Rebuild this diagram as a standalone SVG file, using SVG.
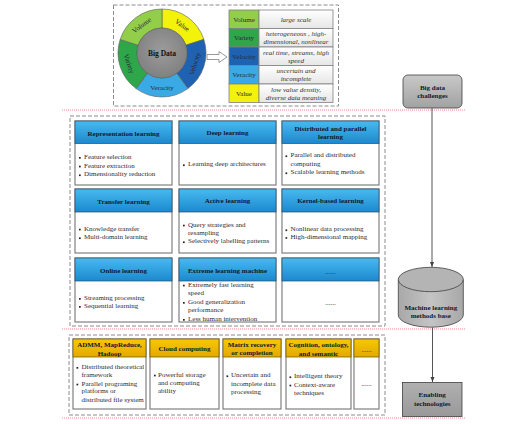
<svg xmlns="http://www.w3.org/2000/svg" width="512" height="424" viewBox="0 0 512 424">
<defs>
<linearGradient id="gBlue" x1="0" y1="0" x2="0" y2="1"><stop offset="0" stop-color="#48BAF0"/><stop offset="1" stop-color="#1C88CE"/></linearGradient>
<linearGradient id="gGold" x1="0" y1="0" x2="0" y2="1"><stop offset="0" stop-color="#F8C800"/><stop offset="1" stop-color="#E2A900"/></linearGradient>
<linearGradient id="gGray" x1="0" y1="0" x2="0" y2="1"><stop offset="0" stop-color="#C8C8C8"/><stop offset="1" stop-color="#A2A2A2"/></linearGradient>
<linearGradient id="gDark" x1="0" y1="0" x2="0" y2="1"><stop offset="0" stop-color="#B0B0B0"/><stop offset="1" stop-color="#999999"/></linearGradient>
<linearGradient id="gCell" x1="0" y1="0" x2="0" y2="1"><stop offset="0" stop-color="#FFFFFF"/><stop offset="1" stop-color="#E6E6E6"/></linearGradient>
<linearGradient id="gCyl" x1="0" y1="0" x2="1" y2="0"><stop offset="0" stop-color="#A8A8A8"/><stop offset="0.5" stop-color="#C4C4C4"/><stop offset="1" stop-color="#A8A8A8"/></linearGradient>
<radialGradient id="gHub" cx="0.5" cy="0.45" r="0.6"><stop offset="0" stop-color="#9C9C9C"/><stop offset="1" stop-color="#7E7E7E"/></radialGradient>
<marker id="arr" viewBox="0 0 10 10" refX="10" refY="5" markerWidth="5" markerHeight="5" orient="auto"><path d="M0,1 L10,5 L0,9 Z" fill="#404040"/></marker>
</defs>
<style>
text{font-family:"Liberation Serif","Times New Roman",serif;font-size:7px;fill:#2a2a36}
.t{font-weight:bold;fill:#0f1a2c;text-anchor:middle}
.c{text-anchor:middle}
.i{font-style:italic;text-anchor:middle;fill:#333}
.body{fill:#fff;stroke:#808080;stroke-width:1.2}
.hb{fill:url(#gBlue);stroke:#2b4a66;stroke-width:0.7}
.hy{fill:url(#gGold);stroke:#6a5200;stroke-width:0.7}
.dash{fill:none;stroke:#8c8c8c;stroke-width:1;stroke-dasharray:4 2}
.red{stroke:#E87070;stroke-width:0.8;stroke-dasharray:1 1}
.b{fill:#222}
.seg{stroke:#5a5a5a;stroke-width:0.6}
.cell{stroke:#808080;stroke-width:0.8}
.conn{stroke:#555;stroke-width:1;fill:none}
</style>

<!-- separators and dashed frames -->
<line class="red" x1="62" y1="110" x2="465" y2="110"/>
<line class="red" x1="62" y1="329" x2="465" y2="329"/>
<line class="red" x1="62" y1="418" x2="465" y2="418"/>
<rect class="dash" x="113.5" y="5" width="225" height="101"/>
<rect class="dash" x="70" y="116" width="315" height="210"/>
<rect class="dash" x="69" y="335" width="316" height="80"/>

<!-- Big data wheel -->
<g id="bigdata-wheel">
<path class="seg" fill="#F2F20A" d="M162,9 A44,44 0 0 1 203.85,39.40 L185.78,45.27 A25,25 0 0 0 162,28 Z"/>
<path class="seg" fill="#1F62B2" d="M203.85,39.40 A44,44 0 0 1 187.86,88.60 L176.70,73.23 A25,25 0 0 0 185.78,45.27 Z"/>
<path class="seg" fill="#3AAAE6" d="M187.86,88.60 A44,44 0 0 1 136.14,88.60 L147.30,73.23 A25,25 0 0 0 176.70,73.23 Z"/>
<path class="seg" fill="#2EA64A" d="M136.14,88.60 A44,44 0 0 1 120.15,39.40 L138.22,45.27 A25,25 0 0 0 147.30,73.23 Z"/>
<path class="seg" fill="#92CE4A" d="M120.15,39.40 A44,44 0 0 1 162,9 L162,28 A25,25 0 0 0 138.22,45.27 Z"/>
<circle cx="162" cy="53" r="25" fill="url(#gHub)" stroke="#5a5a5a" stroke-width="0.6"/>
<text class="t" x="162" y="55.5" style="font-size:7.5px;fill:#111">Big Data</text>
<text class="c" transform="translate(182.3,25.1) rotate(36)" y="2.4">Value</text>
<text class="c" transform="translate(194.8,63.7) rotate(-72)" y="2.4">Velocity</text>
<text class="c" x="162" y="89.9">Veracity</text>
<text class="c" transform="translate(129.2,63.7) rotate(72)" y="2.4">Variety</text>
<text class="c" transform="translate(141.7,25.1) rotate(-36)" y="2.4">Volume</text>
</g>

<g id="hollow-arrow">
<polygon points="207,54.5 219,54.5 219,51.5 227,57 219,62.5 219,59.5 207,59.5" fill="#fff" stroke="#808080" stroke-width="0.8"/>
</g>

<!-- V table -->
<g id="v-table">
<rect class="cell" x="229" y="10" width="30" height="18.5" fill="#92CE4A"/>
<rect class="cell" x="229" y="28.5" width="30" height="18.5" fill="#2EA64A"/>
<rect class="cell" x="229" y="47" width="30" height="18.5" fill="#1F62B2"/>
<rect class="cell" x="229" y="65.5" width="30" height="18.5" fill="#3AAAE6"/>
<rect class="cell" x="229" y="84" width="30" height="18.5" fill="#F2F20A"/>
<rect class="cell" x="259" y="10" width="74" height="18.5" fill="url(#gCell)"/>
<rect class="cell" x="259" y="28.5" width="74" height="18.5" fill="url(#gCell)"/>
<rect class="cell" x="259" y="47" width="74" height="18.5" fill="url(#gCell)"/>
<rect class="cell" x="259" y="65.5" width="74" height="18.5" fill="url(#gCell)"/>
<rect class="cell" x="259" y="84" width="74" height="18.5" fill="url(#gCell)"/>
<text class="c" x="244" y="21.6">Volume</text>
<text class="c" x="244" y="40.1">Variety</text>
<text class="c" x="244" y="58.6">Velocity</text>
<text class="c" x="244" y="77.1">Veracity</text>
<text class="c" x="244" y="95.6">Value</text>
<text class="i" x="296" y="21.6">large scale</text>
<text class="i" x="296" y="36.2">heterogeneous , high-</text>
<text class="i" x="296" y="44.2">dimensional, nonlinear</text>
<text class="i" x="296" y="54.7">real time, streams, high</text>
<text class="i" x="296" y="62.7">speed</text>
<text class="i" x="296" y="73.2">uncertain and</text>
<text class="i" x="296" y="81.2">incomplete</text>
<text class="i" x="296" y="91.7">low value density,</text>
<text class="i" x="296" y="99.7">diverse data meaning</text>
</g>

<!-- right column nodes -->
<g id="big-data-challenges">
<rect x="403" y="75" width="59" height="33" rx="5" fill="url(#gGray)" stroke="#404040" stroke-width="0.8"/>
<text class="t" x="432.5" y="90">Big data</text>
<text class="t" x="432.5" y="98">challenges</text>
</g>
<g id="ml-methods-base">
<path d="M398.3,279.5 L398.3,315 A32.5,12.2 0 0 0 463.3,315 L463.3,279.5" fill="url(#gCyl)" stroke="#404040" stroke-width="0.8"/>
<ellipse cx="430.8" cy="279.5" rx="32.5" ry="12.2" fill="#B4B4B4" stroke="#404040" stroke-width="0.8"/>
<text class="t" x="430.8" y="309.5">Machine learning</text>
<text class="t" x="430.8" y="317.8">methods base</text>
</g>
<g id="enabling-technologies">
<rect x="402.5" y="382.5" width="59.5" height="34" fill="url(#gDark)" stroke="#404040" stroke-width="0.8"/>
<text class="t" x="432.2" y="397.4">Enabling</text>
<text class="t" x="432.2" y="405.7">technologies</text>
</g>
<g id="connectors">
<line class="conn" x1="432" y1="108" x2="432" y2="267" marker-end="url(#arr)"/>
<line class="conn" x1="432.5" y1="327.5" x2="432.5" y2="382" marker-end="url(#arr)"/>
</g>

<!-- ML method cards -->
<g id="representation-learning">
<rect class="body" x="75" y="121" width="97" height="64"/><rect class="hb" x="75" y="121" width="97" height="22.5"/>
<text class="t" x="123.5" y="135.5">Representation learning</text>
<rect class="b" x="79" y="157" width="1.7" height="1.7"/><text x="84" y="159">Feature selection</text>
<rect class="b" x="79" y="165.7" width="1.7" height="1.7"/><text x="84" y="167.7">Feature extraction</text>
<rect class="b" x="79" y="174.4" width="1.7" height="1.7"/><text x="84" y="176.4">Dimensionality reduction</text>
</g>
<g id="deep-learning">
<rect class="body" x="179" y="121" width="97" height="64"/><rect class="hb" x="179" y="121" width="97" height="22.5"/>
<text class="t" x="227.5" y="134.7">Deep learning</text>
<rect class="b" x="183" y="164.4" width="1.7" height="1.7"/><text x="188" y="166.4">Learning deep architectures</text>
</g>
<g id="distributed-parallel-learning">
<rect class="body" x="282" y="121" width="97" height="64"/><rect class="hb" x="282" y="121" width="97" height="22.5"/>
<text class="t" x="330.5" y="130.7">Distributed and parallel</text>
<text class="t" x="330.5" y="139">learning</text>
<rect class="b" x="285.5" y="155.4" width="1.7" height="1.7"/><text x="290.5" y="157.4">Parallel and distributed</text>
<text x="290.5" y="165.7">computing</text>
<rect class="b" x="285.5" y="172.4" width="1.7" height="1.7"/><text x="290.5" y="174.4">Scalable learning methods</text>
</g>
<g id="transfer-learning">
<rect class="body" x="75" y="189" width="97" height="64"/><rect class="hb" x="75" y="189" width="97" height="23"/>
<text class="t" x="123.5" y="204">Transfer learning</text>
<rect class="b" x="79" y="228.7" width="1.7" height="1.7"/><text x="84" y="230.7">Knowledge transfer</text>
<rect class="b" x="79" y="237.4" width="1.7" height="1.7"/><text x="84" y="239.4">Multi-domain learning</text>
</g>
<g id="active-learning">
<rect class="body" x="179" y="189" width="97" height="64"/><rect class="hb" x="179" y="189" width="97" height="23"/>
<text class="t" x="227.5" y="203.4">Active learning</text>
<rect class="b" x="183" y="224.7" width="1.7" height="1.7"/><text x="188" y="226.7">Query strategies and</text>
<text x="188" y="235.1">resampling</text>
<rect class="b" x="183" y="241.4" width="1.7" height="1.7"/><text x="188" y="243.4">Selectively labelling patterns</text>
</g>
<g id="kernel-based-learning">
<rect class="body" x="282" y="189" width="97" height="64"/><rect class="hb" x="282" y="189" width="97" height="23"/>
<text class="t" x="330.5" y="203.4">Kernel-based learning</text>
<rect class="b" x="285.5" y="229.4" width="1.7" height="1.7"/><text x="290.5" y="231.4">Nonlinear data processing</text>
<rect class="b" x="285.5" y="237.1" width="1.7" height="1.7"/><text x="290.5" y="239.1">High-dimensional mapping</text>
</g>
<g id="online-learning">
<rect class="body" x="75" y="258" width="97" height="64"/><rect class="hb" x="75" y="258" width="97" height="23"/>
<text class="t" x="123.5" y="273">Online learning</text>
<rect class="b" x="79" y="298" width="1.7" height="1.7"/><text x="84" y="300">Streaming processing</text>
<rect class="b" x="79" y="306" width="1.7" height="1.7"/><text x="84" y="308">Sequential learning</text>
</g>
<g id="extreme-learning-machine">
<rect class="body" x="179" y="258" width="97" height="64"/><rect class="hb" x="179" y="258" width="97" height="23"/>
<text class="t" x="227.5" y="273">Extreme learning machine</text>
<rect class="b" x="183" y="284.7" width="1.7" height="1.7"/><text x="188" y="286.7">Extremely fast learning</text>
<text x="188" y="295">speed</text>
<rect class="b" x="183" y="302" width="1.7" height="1.7"/><text x="188" y="304">Good generalization</text>
<text x="188" y="312.4">performance</text>
<rect class="b" x="183" y="319" width="1.7" height="1.7"/><text x="188" y="321">Less human intervention</text>
</g>
<g id="more-methods">
<rect class="body" x="282" y="258" width="97" height="64"/><rect class="hb" x="282" y="258" width="97" height="23"/>
<text class="c" x="330.5" y="274">......</text>
<text class="c" x="330.5" y="305">......</text>
</g>

<!-- enabling technology cards -->
<g id="admm-mapreduce-hadoop">
<rect class="body" x="73" y="339" width="73" height="70"/><rect class="hy" x="73" y="339" width="73" height="18"/>
<text class="t" x="109.5" y="347.4">ADMM, MapReduce,</text>
<text class="t" x="109.5" y="355.7">Hadoop</text>
<rect class="b" x="76.5" y="367" width="1.7" height="1.7"/><text x="81.5" y="369">Distributed theoretical</text>
<text x="81.5" y="376.7">framework</text>
<rect class="b" x="76.5" y="383.7" width="1.7" height="1.7"/><text x="81.5" y="385.7">Parallel programing</text>
<text x="81.5" y="393.4">platforms or</text>
<text x="81.5" y="401.7">distributed file system</text>
</g>
<g id="cloud-computing">
<rect class="body" x="150" y="339" width="69" height="70"/><rect class="hy" x="150" y="339" width="69" height="18"/>
<text class="t" x="184.5" y="351.4">Cloud computing</text>
<rect class="b" x="154" y="374.7" width="1.7" height="1.7"/><text x="158" y="376.7">Powerful storage</text>
<text x="158" y="385">and computing</text>
<text x="158" y="393.4">ability</text>
</g>
<g id="matrix-recovery">
<rect class="body" x="223" y="339" width="58" height="70"/><rect class="hy" x="223" y="339" width="58" height="18"/>
<text class="t" x="252" y="347.4">Matrix recovery</text>
<text class="t" x="252" y="355.2">or completion</text>
<rect class="b" x="226.5" y="375.4" width="1.7" height="1.7"/><text x="231" y="377.4">Uncertain and</text>
<text x="231" y="385.7">incomplete data</text>
<text x="231" y="394">processing</text>
</g>
<g id="cognition-ontology-semantic">
<rect class="body" x="286" y="339" width="65" height="70"/><rect class="hy" x="286" y="339" width="65" height="18"/>
<text class="t" x="318.5" y="347.4">Cognition, ontology,</text>
<text class="t" x="318.5" y="355.7">and semantic</text>
<rect class="b" x="289.5" y="376.4" width="1.7" height="1.7"/><text x="294" y="378.4">Intelligent theory</text>
<rect class="b" x="289.5" y="384.7" width="1.7" height="1.7"/><text x="294" y="386.7">Context-aware</text>
<text x="294" y="395">techniques</text>
</g>
<g id="more-technologies">
<rect class="body" x="354" y="339" width="25" height="70"/><rect class="hy" x="354" y="339" width="25" height="18"/>
<text class="c" x="366.5" y="352">......</text>
<text class="c" x="366.5" y="385.7">......</text>
</g>
</svg>
